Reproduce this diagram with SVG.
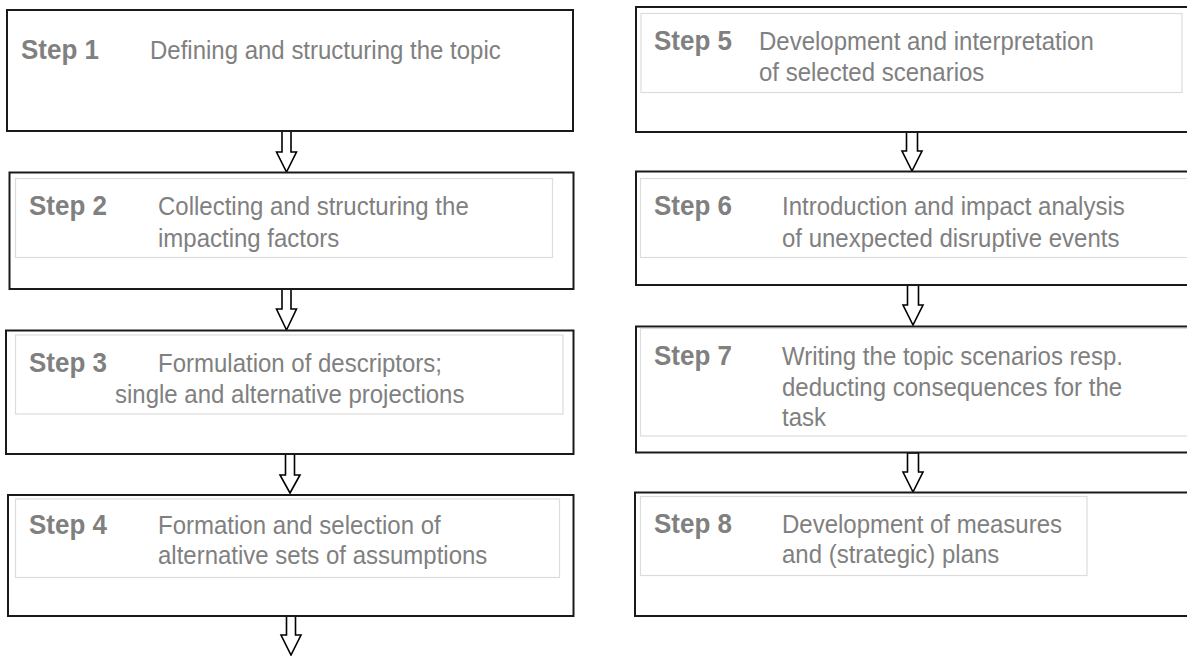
<svg xmlns="http://www.w3.org/2000/svg" width="1187" height="656" viewBox="0 0 1187 656">
<style>
.box{fill:#ffffff;stroke:#1a1a1a;stroke-width:2}
.inner{fill:none;stroke:#dcdcdc;stroke-width:1.2}
.arrow{fill:#ffffff;stroke:#000000;stroke-width:1.6;stroke-linejoin:miter}
.step{font-family:"Liberation Sans",Arial,sans-serif;font-weight:bold;font-size:26px;fill:#808080}
.desc{font-family:"Liberation Sans",Arial,sans-serif;font-size:24px;fill:#808080}
</style>
<rect width="1187" height="656" fill="#ffffff"/>
<g id="connectors">
<polygon class="arrow" points="282,131 291,131 291,152 296.5,152 286.5,172 276.5,152 282,152"/>
<polygon class="arrow" points="282,289 291,289 291,309 296.5,309 286.5,330 276.5,309 282,309"/>
<polygon class="arrow" points="285.5,454 294.5,454 294.5,475 300,475 290,493 280,475 285.5,475"/>
<polygon class="arrow" points="286.5,616 295.5,616 295.5,635 301,635 291,655 281,635 286.5,635"/>
<polygon class="arrow" points="906.5,132 917.5,132 917.5,151 922,151 912,171 902,151 906.5,151"/>
<polygon class="arrow" points="907.5,285 918.5,285 918.5,305 923,305 913,325 903,305 907.5,305"/>
<polygon class="arrow" points="907.5,453 918.5,453 918.5,472 923,472 913,492 903,472 907.5,472"/>
</g>
<g id="step1">
<rect class="box" x="7" y="10" width="566" height="121"/>
<text class="step" transform="translate(21,59) scale(1,1.08)">Step 1</text>
<text class="desc" transform="translate(150,59) scale(1,1.08)">Defining and structuring the topic</text>
</g>
<g id="step2">
<rect class="box" x="9.5" y="172.5" width="564" height="116.5"/>
<rect class="inner" x="15.5" y="178.5" width="537" height="79"/>
<text class="step" transform="translate(29,215) scale(1,1.08)">Step 2</text>
<text class="desc" transform="translate(158,215) scale(1,1.08)">Collecting and structuring the</text>
<text class="desc" transform="translate(158,247) scale(1,1.08)">impacting factors</text>
</g>
<g id="step3">
<rect class="box" x="6" y="330.5" width="567.5" height="123.5"/>
<rect class="inner" x="15.5" y="335" width="547.5" height="79"/>
<text class="step" transform="translate(29,372) scale(1,1.08)">Step 3</text>
<text class="desc" transform="translate(158,372) scale(1,1.08)">Formulation of descriptors;</text>
<text class="desc" transform="translate(115,403) scale(1,1.08)">single and alternative projections</text>
</g>
<g id="step4">
<rect class="box" x="8" y="495" width="565.5" height="121"/>
<rect class="inner" x="15.5" y="499" width="544" height="78.5"/>
<text class="step" transform="translate(29,534) scale(1,1.08)">Step 4</text>
<text class="desc" transform="translate(158,534) scale(1,1.08)">Formation and selection of</text>
<text class="desc" transform="translate(158,564) scale(1,1.08)">alternative sets of assumptions</text>
</g>
<g id="step5">
<rect class="box" x="636" y="7" width="560" height="125"/>
<rect class="inner" x="641" y="13.5" width="541" height="79"/>
<text class="step" transform="translate(654,50) scale(1,1.08)">Step 5</text>
<text class="desc" transform="translate(759,50) scale(1,1.08)">Development and interpretation</text>
<text class="desc" transform="translate(759,81) scale(1,1.08)">of selected scenarios</text>
</g>
<g id="step6">
<rect class="box" x="636" y="171.5" width="560" height="113.5"/>
<rect class="inner" x="640.5" y="178.5" width="555" height="79"/>
<text class="step" transform="translate(654,215) scale(1,1.08)">Step 6</text>
<text class="desc" transform="translate(782,215) scale(1,1.08)">Introduction and impact analysis</text>
<text class="desc" transform="translate(782,247) scale(1,1.08)">of unexpected disruptive events</text>
</g>
<g id="step7">
<rect class="box" x="636" y="326.5" width="560" height="126"/>
<rect class="inner" x="640.5" y="328.5" width="555" height="107.5"/>
<text class="step" transform="translate(654,365) scale(1,1.08)">Step 7</text>
<text class="desc" transform="translate(782,365) scale(1,1.08)">Writing the topic scenarios resp.</text>
<text class="desc" transform="translate(782,396) scale(1,1.08)">deducting consequences for the</text>
<text class="desc" transform="translate(782,426) scale(1,1.08)">task</text>
</g>
<g id="step8">
<rect class="box" x="635" y="492.5" width="561" height="123.5"/>
<rect class="inner" x="640.5" y="496.5" width="446.5" height="79"/>
<text class="step" transform="translate(654,533) scale(1,1.08)">Step 8</text>
<text class="desc" transform="translate(782,533) scale(1,1.08)">Development of measures</text>
<text class="desc" transform="translate(782,563) scale(1,1.08)">and (strategic) plans</text>
</g>
</svg>
